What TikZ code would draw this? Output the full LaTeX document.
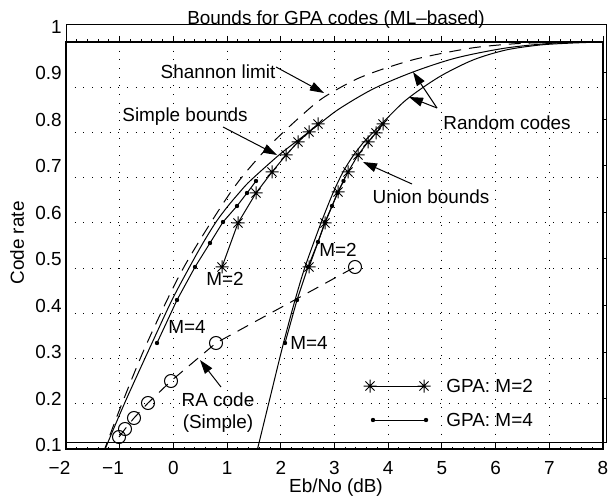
\documentclass[tikz,border=0pt]{standalone}
\usepackage{fontspec}
\setmainfont{Liberation Sans}
\usetikzlibrary{arrows.meta}

\begin{document}
\begin{tikzpicture}[
		x=0.5bp, y=-0.5bp,
		every node/.style={font=\fontsize{9.5}{11}\selectfont, inner sep=0pt},
		bound/.style={line width=0.5bp},
		limitline/.style={line width=0.5bp, dash pattern=on 6bp off 4bp},
		gridline/.style={line width=0.5bp, dash pattern=on 0.5bp off 3.85bp},
		frame/.style={line width=0.5bp},
		thickframe/.style={line width=1bp},
		annot/.style={-{Triangle[length=7bp,width=4.5bp]}, line width=0.5bp},
		gpastar/.pic={\draw[line width=0.5bp] (-6.5,0) -- (6.5,0) (0,-6.5) -- (0,6.5) (-4.6,-4.6) -- (4.6,4.6) (-4.6,4.6) -- (4.6,-4.6);},
		gpadot/.pic={\fill (0,0) circle (2.2);},
		racircle/.pic={\draw[line width=0.5bp] (0,0) circle (6.5);}
		]
		\useasboundingbox (0,0) rectangle (612,501);
		
		% Grid
		\foreach \i in {1,...,9}
			\draw[gridline] ({66+53.7*\i},42) -- ({66+53.7*\i},449);
		\foreach \j in {1,...,8}
			\draw[gridline] (66,{449-45.22*\j}) -- (603,{449-45.22*\j});
		
		% Frames and ticks
		\draw[frame] (66.7,25) rectangle (606.7,442);
		\draw[thickframe] (66,42) rectangle (603,449);
		\foreach \i in {0,...,10} {
			\draw[frame] ({66+53.7*\i},36) -- ++(0,5.5);
			\draw[frame] ({66+53.7*\i},442) -- ++(0,5);
		}
		\foreach \i in {0,...,50} {
			\draw[frame] ({66+10.74*\i},42) -- ++(0,-2.5);
			\draw[frame] ({66+10.74*\i},449) -- ++(0,-2.5);
		}
		\foreach \v in {1,...,8}
			\draw[frame] (606.7,{445-46.5*\v}) -- ++(-5,0);
		
		% Tick labels
		\foreach \v/\t in {0/0.1,1/0.2,2/0.3,3/0.4,4/0.5,5/0.6,6/0.7,7/0.8,8/0.9,9/1}
			\node[anchor=east] (ytick\v) at (62,{445-46.5*\v}) {\t};
		\node (xtickm2) at (59.5,468) {−2};
		\node (xtickm1) at (113,468) {−1};
		\foreach \i in {0,...,8}
			\node (xtick\i) at ({173.4+53.7*\i},468) {\i};
		
		% Axis labels and title
		\node[anchor=base] (title) at (336,25) {Bounds for GPA codes (ML–based)};
		\node (xlab) at (336,488) {Eb/No (dB)};
		\node[rotate=90] (ylab) at (17,243) {Code rate};
		
		% Curves
		\begin{scope}
			\clip (66,42) rectangle (603,449);
			% Shannon limit
			\draw[limitline] plot[smooth, tension=0.5] coordinates {(103.6,452) (104.7,449) (121.8,404) (146.8,343.5) (183.4,268) (230.3,192.7) (260.8,155) (283,132.5) (316,103) (336,90) (359,78) (386,68) (416,59) (449,52) (479,47) (519,43.5) (566,42) (603,41.5)};
			% Random codes, simple bound
			\draw[bound] plot[smooth, tension=0.5] coordinates {(104.5,453) (106,447) (126,400) (152,343) (172,300) (189,268) (203,243) (216,222) (228,206) (239,193) (250,181) (279,155) (299,139.5) (318,125) (339,109) (373,89) (413,72) (456,58) (506,48) (556,43) (603,42)};
			% Random codes, union bound
			\draw[bound] plot[smooth, tension=0.5] coordinates {(256.5,453) (258,447) (269.5,400) (283,345) (294.5,302) (305,267) (321,223) (333,193) (343,172) (353,156) (363,143) (372,133.5) (381,124.5) (406,100) (439,77) (473,60) (506,50) (540,45) (573,43) (603,42)};
		\end{scope}
		
		% GPA codes, simple bounds
		\draw[bound] (222,267) -- (238,223) -- (256,193) -- (272,172) -- (286,155) -- (298,142) -- (309,132) -- (318,124);
		\foreach \x/\y in {222/267,238/223,256/193,272/172,286/155,298/142,309/132,318/124}
			\pic at (\x,\y) {gpastar};
		\draw[bound] (157,343) -- (177,300) -- (195,267) -- (210,243) -- (223,222) -- (237,206) -- (247,193) -- (256,181);
		\foreach \x/\y in {157/343,177/300,195/267,210/243,223/222,237/206,247/193,256/181}
			\pic at (\x,\y) {gpadot};
		
		% GPA codes, union bounds
		\draw[bound] (309,267) -- (325,223) -- (338,192) -- (348,172) -- (358,155) -- (368,142) -- (376,133) -- (383,124);
		\foreach \x/\y in {309/267,325/223,338/192,348/172,358/155,368/142,376/133,383/124}
			\pic at (\x,\y) {gpastar};
		\draw[bound] (285,343) -- (297,300) -- (308,267) -- (318,242) -- (325,222) -- (332,206) -- (337.5,193) -- (343.5,181);
		\foreach \x/\y in {285/343,297/300,308/267,318/242,325/222,332/206,337.5/193,343.5/181}
			\pic at (\x,\y) {gpadot};
		
		% RA code
		\draw[limitline] (119,437) -- (125,429) -- (134,418) -- (148,403) -- (171,381) -- (216,343) -- (355,267);
		\foreach \x/\y in {119/437,125/429,134/418,148/403,171/381,216/343,355/267}
			\pic at (\x,\y) {racircle};
		
		% Curve labels
		\node (shannonTxt) at (218,72) {Shannon limit};
		\node (simpleTxt) at (185,117) {Simple bounds};
		\node (randomTxt) at (507,123) {Random codes};
		\node (unionTxt) at (431,197) {Union bounds};
		\node[align=center] (raTxt) at (218,413) {RA code\\(Simple)};
		\node (mTwoL) at (225,279) {M=2};
		\node (mFourL) at (187,327) {M=4};
		\node (mTwoR) at (338,250) {M=2};
		\node (mFourR) at (309,343) {M=4};
		
		% Arrows
		\coordinate (shannonTail) at (276,67);
		\coordinate (shannonTip) at (324,93);
		\coordinate (simpleTail) at (223,127);
		\coordinate (simpleTip) at (277,155);
		\coordinate (randomTail) at (437,108);
		\coordinate (randomTipA) at (413,72);
		\coordinate (randomTipB) at (409,97);
		\coordinate (unionTail) at (412,184);
		\coordinate (unionTip) at (363,162);
		\coordinate (raTail) at (221,387);
		\coordinate (raTip) at (200,360);
		\draw[annot] (shannonTail) -- (shannonTip);
		\draw[annot] (simpleTail) -- (simpleTip);
		\draw[annot] (randomTail) -- (randomTipA);
		\draw[annot] (randomTail) -- (randomTipB);
		\draw[annot] (unionTail) -- (unionTip);
		\draw[annot] (raTail) -- (raTip);
		
		% Legend
		\draw[bound] (370,386) -- (424,386);
		\pic at (370,386) {gpastar};
		\pic at (424,386) {gpastar};
		\draw[bound] (373,420) -- (426,420);
		\pic at (373,420) {gpadot};
		\pic at (426,420) {gpadot};
		\node[anchor=west] (legTwo) at (446,386) {GPA: M=2};
		\node[anchor=west] (legFour) at (446,420) {GPA: M=4};
		
	\end{tikzpicture}
\end{document}
